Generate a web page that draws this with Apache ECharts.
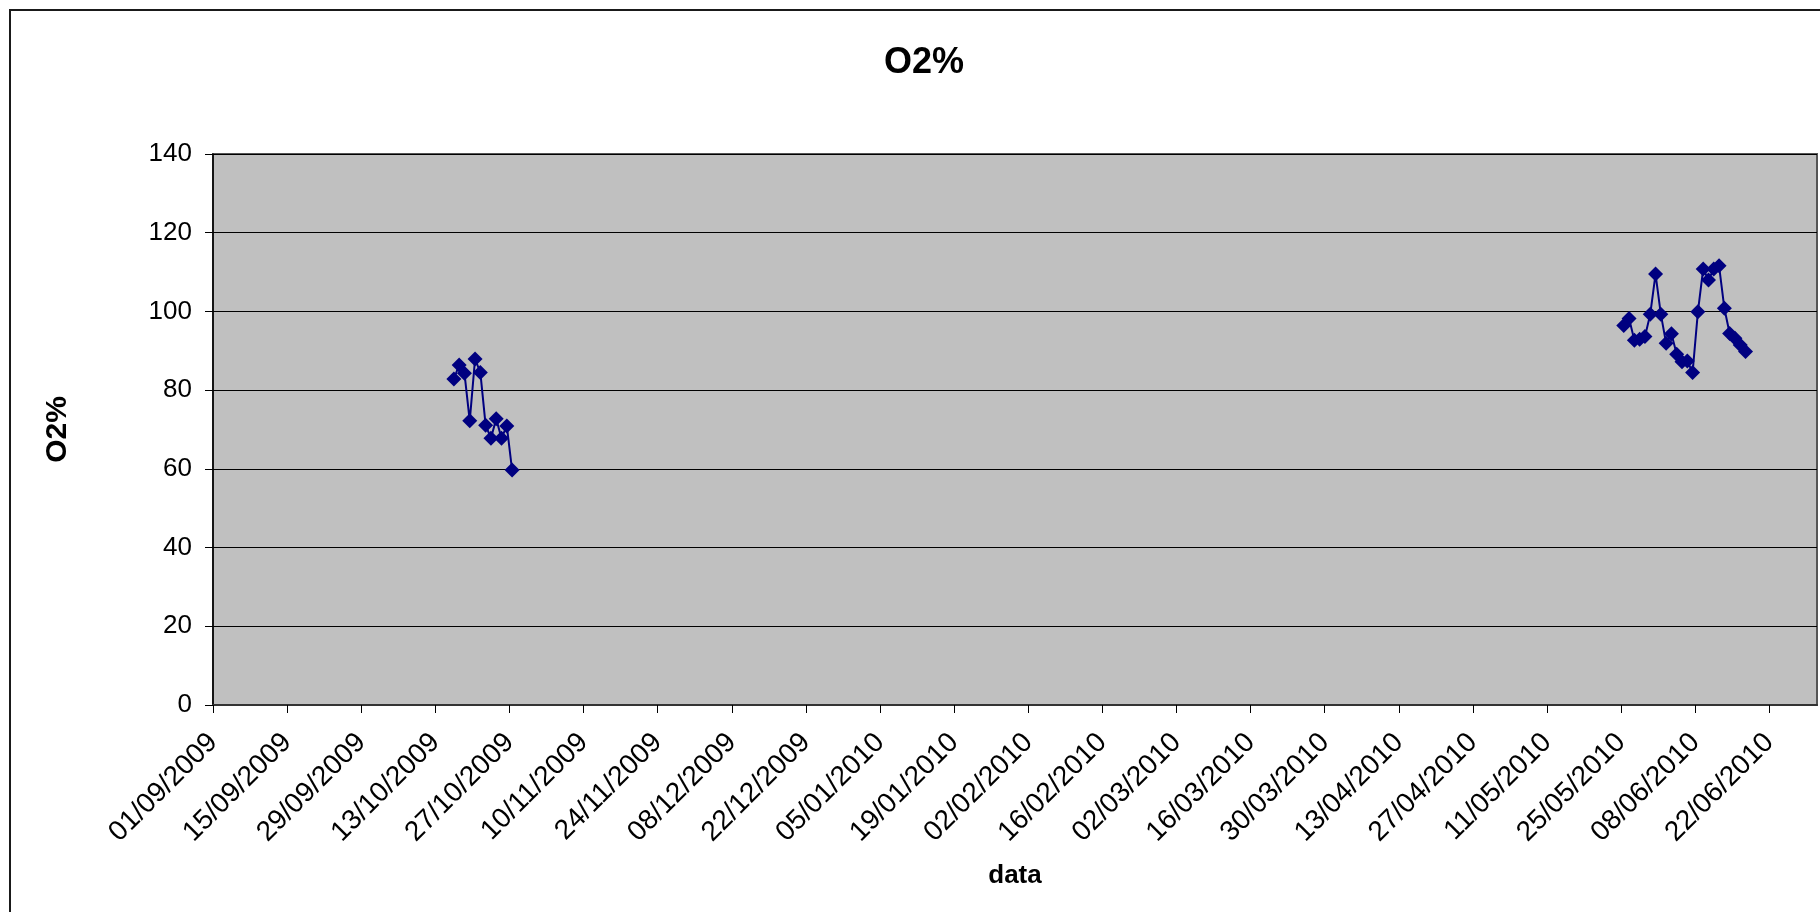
<!DOCTYPE html>
<html>
<head>
<meta charset="utf-8">
<script src="https://cdn.jsdelivr.net/npm/echarts@6/dist/echarts.min.js"></script>
<style>
html,body{margin:0;padding:0;background:#fff;}
#chart{width:1820px;height:912px;}
</style>
</head>
<body>
<div id="chart"></div>
<script>
// ---- data ----
const title = 'O2%';
const yName = 'O2%';
const xName = 'data';
const axisStartDate = '2009-09-01';
const axisEndDate = '2010-07-01';
const tickStepDays = 14;
const yMin = 0, yMax = 140, yStep = 20;

const dates2009 = ['2009-10-16','2009-10-17','2009-10-18','2009-10-19','2009-10-20','2009-10-21',
                   '2009-10-22','2009-10-23','2009-10-24','2009-10-25','2009-10-26','2009-10-27'];
const o2_2009 = [82.8, 86.4, 84.3, 72.2, 87.9, 84.5, 71.1, 67.8, 72.7, 67.8, 70.9, 59.7];

const dates2010 = ['2010-05-25','2010-05-26','2010-05-27','2010-05-28','2010-05-29','2010-05-30',
                   '2010-05-31','2010-06-01','2010-06-02','2010-06-03','2010-06-04','2010-06-05',
                   '2010-06-06','2010-06-07','2010-06-08','2010-06-09','2010-06-10','2010-06-11',
                   '2010-06-12','2010-06-13','2010-06-14','2010-06-15','2010-06-16','2010-06-17'];
const o2_2010 = [96.4, 98.2, 92.7, 92.9, 93.6, 99.3, 109.5, 99.3, 91.9, 94.3, 89.1, 87.2,
                 87.4, 84.5, 99.9, 110.8, 108.0, 110.8, 111.6, 100.8, 94.4, 93.2, 91.5, 89.8];

// ---- helpers: date <-> day index on the axis ----
const DAY = 86400000;
function toUTC(s){ const p = s.split('-').map(Number); return Date.UTC(p[0], p[1]-1, p[2]); }
const base = toUTC(axisStartDate);
function dayIndex(s){ return (toUTC(s) - base) / DAY + 0.5; } // centre of the day (date-axis style)
function fmt(v){
  const d = new Date(base + Math.round(v) * DAY);
  const dd = String(d.getUTCDate()).padStart(2,'0');
  const mm = String(d.getUTCMonth()+1).padStart(2,'0');
  return dd + '/' + mm + '/' + d.getUTCFullYear();
}
const xMax = (toUTC(axisEndDate) - base) / DAY;

const FONT = '"Liberation Sans", Arial, sans-serif';
const chart = echarts.init(document.getElementById('chart'), null, {renderer:'canvas'});

const seriesStyle = {
  type: 'line',
  symbol: 'diamond',
  symbolSize: 15,
  itemStyle: {color: '#000080'},
  lineStyle: {color: '#000080', width: 2},
  animation: false
};

chart.setOption({
  backgroundColor: '#ffffff',
  animation: false,
  title: {
    text: title,
    left: 879,
    top: 40,
    textStyle: {fontFamily: FONT, fontSize: 36, fontWeight: 'bold', color: '#000'}
  },
  graphic: [{
    type: 'rect',
    shape: {x: 10, y: 10, width: 1840, height: 940},
    style: {fill: 'none', stroke: '#1a1a1a', lineWidth: 2},
    silent: true
  }],
  grid: {
    left: 213, top: 154, right: 3, bottom: 207,
    show: true,
    backgroundColor: '#C0C0C0',
    borderColor: '#555555',
    borderWidth: 2
  },
  xAxis: {
    type: 'value',
    min: 0,
    max: xMax,
    interval: tickStepDays,
    name: xName,
    nameLocation: 'middle',
    nameGap: 158,
    nameTextStyle: {fontFamily: FONT, fontSize: 26, fontWeight: 'bold', color: '#000'},
    axisLine: {show: true, lineStyle: {color: '#333', width: 2}},
    axisTick: {show: true, length: 8, lineStyle: {color: '#000', width: 1}},
    splitLine: {show: false},
    axisLabel: {
      rotate: 45,
      margin: 33,
      showMaxLabel: false,
      fontFamily: FONT, fontSize: 28, color: '#000',
      formatter: function(v){ return (Math.round(v) % tickStepDays === 0) ? fmt(v) : ''; }
    }
  },
  yAxis: {
    type: 'value',
    min: yMin, max: yMax, interval: yStep,
    name: yName,
    nameLocation: 'middle',
    nameRotate: 90,
    nameGap: 140,
    nameTextStyle: {fontFamily: FONT, fontSize: 30, fontWeight: 'bold', color: '#000'},
    axisLine: {show: true, lineStyle: {color: '#000', width: 1.5}},
    axisTick: {show: true, length: 8, lineStyle: {color: '#000', width: 1}},
    splitLine: {show: true, lineStyle: {color: '#000', width: 1}},
    axisLabel: {margin: 21, fontFamily: FONT, fontSize: 26, color: '#000'}
  },
  series: [
    Object.assign({name: '2009', data: dates2009.map((d,i)=>[dayIndex(d), o2_2009[i]])}, seriesStyle),
    Object.assign({name: '2010', data: dates2010.map((d,i)=>[dayIndex(d), o2_2010[i]])}, seriesStyle)
  ]
});
</script>
</body>
</html>
